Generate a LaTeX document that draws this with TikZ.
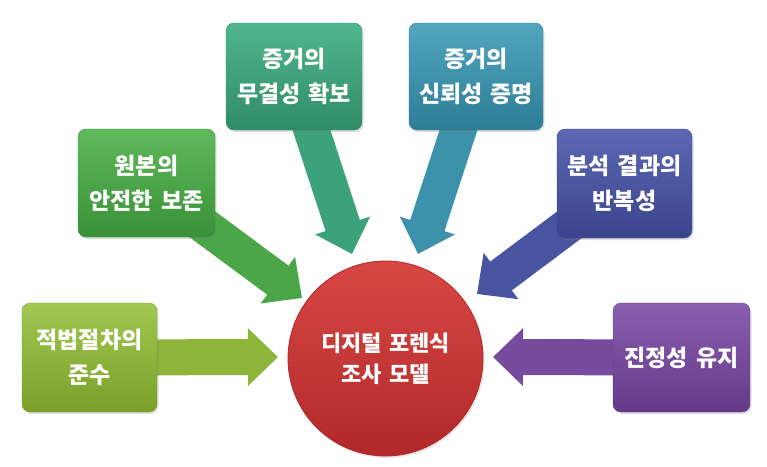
\documentclass[tikz,border=0pt]{standalone}
\usepackage{fontspec}
\newfontfamily\kr[WordSpace=1.5]{Noto Sans CJK KR}
\usetikzlibrary{arrows.meta,shadows}
\definecolor{gA}{RGB}{141,181,58}\definecolor{gAt}{RGB}{160,200,80}\definecolor{gAb}{RGB}{122,160,42}
\definecolor{gB}{RGB}{74,166,70}\definecolor{gBt}{RGB}{95,186,90}\definecolor{gBb}{RGB}{58,144,56}
\definecolor{gC}{RGB}{60,162,122}\definecolor{gCt}{RGB}{80,182,142}\definecolor{gCb}{RGB}{48,140,104}
\definecolor{gD}{RGB}{60,146,170}\definecolor{gDt}{RGB}{82,166,190}\definecolor{gDb}{RGB}{46,124,150}
\definecolor{gE}{RGB}{72,84,160}\definecolor{gEt}{RGB}{92,104,180}\definecolor{gEb}{RGB}{58,68,140}
\definecolor{gF}{RGB}{118,74,156}\definecolor{gFt}{RGB}{138,94,176}\definecolor{gFb}{RGB}{100,58,136}
\definecolor{rC}{RGB}{204,58,58}\definecolor{rCt}{RGB}{214,72,68}\definecolor{rCb}{RGB}{178,40,42}
\tikzset{
  box/.style={rounded corners=8pt, minimum width=#1, text=white, align=center,
    font={\kr\bfseries\fontsize{23}{35}\selectfont}, inner sep=0pt,
    drop shadow={opacity=0.25, shadow xshift=1.5pt, shadow yshift=-2pt}},
  bigarrow/.style={line width=36pt, -{Triangle[length=30pt,width=56pt]}, draw=#1},
}
\begin{document}
\begin{tikzpicture}[x=1pt,y=-1pt]
\useasboundingbox (0,0) rectangle (767,466);
% target coordinates (arrow tips)
\coordinate (t1) at (278,357);
\coordinate (t2) at (302,298);
\coordinate (t3) at (352,254);
\coordinate (t4) at (418,254);
\coordinate (t5) at (477,294);
\coordinate (t6) at (493,357);
% box anchors (centers)
\coordinate (p1) at (89.5,357.5);
\coordinate (p2) at (146.5,183);
\coordinate (p3) at (294,76.5);
\coordinate (p4) at (476,76.5);
\coordinate (p5) at (624.5,183.5);
\coordinate (p6) at (681.5,357.5);
% arrows
\draw[bigarrow=gA] (p1) -- (t1);
\draw[bigarrow=gB] (p2) -- (t2);
\draw[bigarrow=gC] (p3) -- (t3);
\draw[bigarrow=gD] (p4) -- (t4);
\draw[bigarrow=gE] (p5) -- (t5);
\draw[bigarrow=gF] (p6) -- (t6);
% boxes
\node[box=135pt, minimum height=109pt, top color=gAt, bottom color=gAb, draw=gAb] (b1) at (p1) {적법절차의\\준수};
\node[box=137pt, minimum height=108pt, top color=gBt, bottom color=gBb, draw=gBb] (b2) at (p2) {원본의\\안전한 보존};
\node[box=136pt, minimum height=107pt, top color=gCt, bottom color=gCb, draw=gCb] (b3) at (p3) {증거의\\무결성 확보};
\node[box=134pt, minimum height=107pt, top color=gDt, bottom color=gDb, draw=gDb] (b4) at (p4) {증거의\\신뢰성 증명};
\node[box=135pt, minimum height=109pt, top color=gEt, bottom color=gEb, draw=gEb] (b5) at (p5) {분석 결과의\\반복성};
\node[box=137pt, minimum height=109pt, top color=gFt, bottom color=gFb, draw=gFb] (b6) at (p6) {진정성 유지};
% center circle
\node[circle, minimum size=195pt, inner sep=0pt, top color=rCt, bottom color=rCb, draw=rCb, line width=0.8pt,
  text=white, align=center, font={\kr\bfseries\fontsize{22}{31}\selectfont},
  drop shadow={opacity=0.2, shadow xshift=1.5pt, shadow yshift=-2pt}] (c) at (385.5,358.5) {디지털 포렌식\\조사 모델};
\end{tikzpicture}
\end{document}
